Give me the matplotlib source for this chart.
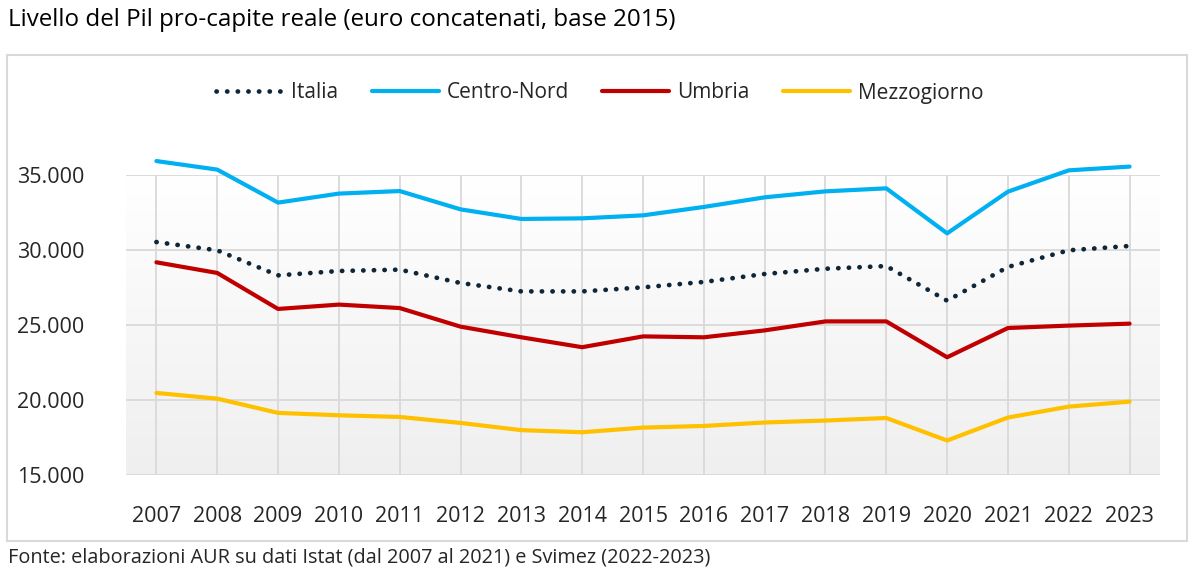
import matplotlib.pyplot as plt
import numpy as np
from matplotlib.patches import Rectangle
from matplotlib.colors import LinearSegmentedColormap
from matplotlib.ticker import FuncFormatter

plt.rcParams['font.family'] = ['Open Sans', 'DejaVu Sans']

years = [str(y) for y in range(2007, 2024)]
italia = [30530, 29980, 28310, 28600, 28690, 27800, 27240, 27240, 27510,
          27870, 28400, 28750, 28930, 26620, 28870, 29980, 30270]
centro_nord = [35930, 35360, 33160, 33760, 33930, 32710, 32070, 32110, 32310,
               32870, 33510, 33910, 34110, 31110, 33890, 35310, 35560]
umbria = [29180, 28470, 26070, 26360, 26130, 24890, 24180, 23520, 24240,
          24180, 24640, 25240, 25240, 22850, 24800, 24960, 25090]
mezzogiorno = [20470, 20090, 19140, 18980, 18870, 18470, 17990, 17850, 18160,
               18270, 18500, 18630, 18800, 17300, 18830, 19560, 19890]
yticks = [15000, 20000, 25000, 30000, 35000]

fig = plt.figure(figsize=(12, 5.79), dpi=100)
fig.patches.append(Rectangle((7 / 1200, 1 - 541 / 579), 1180 / 1200, 486 / 579,
                             transform=fig.transFigure, facecolor='white',
                             edgecolor='#d9d9d9', linewidth=1.5, zorder=-1))

ax = fig.add_axes([126 / 1200, 1 - 475 / 579, 1034 / 1200, 300 / 579])
ax.set_zorder(1)
ax.set_facecolor('none')
x = np.arange(len(years))
ax.set_xlim(-0.5, len(years) - 0.5)
ax.set_ylim(15000, 35000)

# soft vertical gradient in plot area
grad = np.linspace(0, 1, 256).reshape(-1, 1)
ax.imshow(grad, extent=(-0.5, len(years) - 0.5, 15000, 35000), aspect='auto',
          cmap=LinearSegmentedColormap.from_list('g', ['#efefef', '#ffffff']),
          origin='lower', zorder=0)

ax.set_yticks(yticks)
ax.set_xticks(x)
ax.set_xticklabels(years)
ax.yaxis.set_major_formatter(FuncFormatter(lambda v, p: f'{int(v):,}'.replace(',', '.')))
ax.grid(True, color='#d9d9d9', linewidth=1.3, zorder=1)
ax.set_axisbelow(True)
for s in ax.spines.values():
    s.set_visible(False)
ax.tick_params(length=0, labelsize=15.5, colors='#262626')
ax.tick_params(axis='x', pad=22)
ax.tick_params(axis='y', pad=30)

ax.plot(x, italia, color='#0e2638', linewidth=3.4, linestyle=(0, (0.05, 2.2)),
        dash_capstyle='round', label='Italia', zorder=3, clip_on=False)
ax.plot(x, centro_nord, color='#00b0f0', linewidth=3, label='Centro-Nord',
        solid_capstyle='round', zorder=3, clip_on=False)
ax.plot(x, umbria, color='#c00000', linewidth=3, label='Umbria',
        solid_capstyle='round', zorder=3, clip_on=False)
ax.plot(x, mezzogiorno, color='#ffc000', linewidth=3, label='Mezzogiorno',
        solid_capstyle='round', zorder=3, clip_on=False)

fig.legend(loc='center', bbox_to_anchor=(0.5, 1 - 93 / 579), ncol=4,
           frameon=False, fontsize=15, handlelength=3.2, handletextpad=0.4,
           columnspacing=1.6, labelcolor='#262626')

fig.text(8 / 1200, 1 - 20 / 579, 'Livello del Pil pro-capite reale (euro concatenati, base 2015)',
         fontsize=17.4, color='#000000', va='center', ha='left')
fig.text(8 / 1200, 1 - 558 / 579,
         'Fonte: elaborazioni AUR su dati Istat (dal 2007 al 2021) e Svimez (2022-2023)',
         fontsize=14.3, color='#262626', va='center', ha='left')

fig.savefig('out.png', dpi=100)
